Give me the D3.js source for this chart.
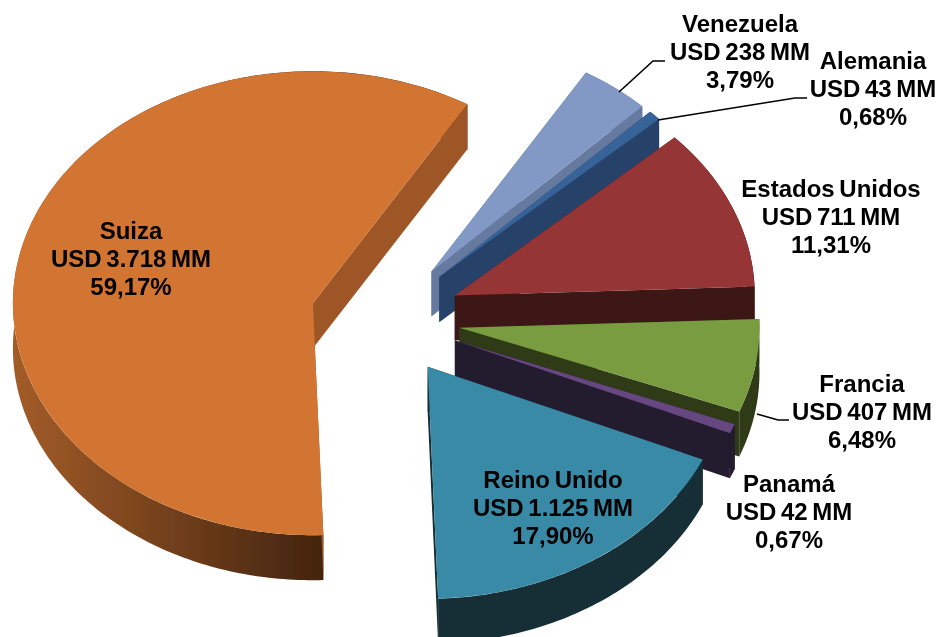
<!DOCTYPE html>
<html>
<head>
<meta charset="utf-8">
<script src="https://cdn.jsdelivr.net/npm/d3@7"></script>
<style>
  html, body { margin: 0; padding: 0; background: #fff; }
  text { font-family: "Liberation Sans", Arial, sans-serif; font-weight: bold; font-size: 24px; word-spacing: -2px; fill: #000; text-anchor: middle; }
  .leader { fill: none; stroke: #000; stroke-width: 1.6; }
</style>
</head>
<body>
<div id="graph"></div>
<script>
var paises = ["Venezuela", "Alemania", "Estados Unidos", "Francia", "Panamá", "Reino Unido", "Suiza"];
var valores = [238, 43, 711, 407, 42, 1125, 3718];
var montos = ["USD 238 MM", "USD 43 MM", "USD 711 MM", "USD 407 MM", "USD 42 MM", "USD 1.125 MM", "USD 3.718 MM"];
var porcentajes = ["3,79%", "0,68%", "11,31%", "6,48%", "0,67%", "17,90%", "59,17%"];

var topColors = ["#8299c6", "#376399", "#963436", "#7a9c3f", "#66467f", "#378aa6", "#d37431"];
var faceColors = ["#66799e", "#274269", "#3e1516", "#2d3a17", "#231a2e", "#162d35", "#9f5725"];
var wallColors = ["#66799e", "#274269", "#3e1516", "#2d3a17", "#231a2e", "#162d35", "url(#suizaWall)"];

// label anchors, same order as paises
var labelX = [740, 873, 831, 862, 789, 553, 131];
var labelY = [32, 69, 197, 392, 492, 488, 239];
var leaders = [
  [[619, 92], [653, 61], [665, 61]],
  [[658, 120], [795, 98], [807, 98]],
  [[757, 414], [778, 420], [789, 420]]
];

var width = 938, height = 637;
var cx = 385.5, cy = 318;     // pie centre before the slices are pulled out
var rx = 300, ry = 232;
var explodeX = 75, explodeY = 59;
var depth = 45;
var lineStep = 28;

var svg = d3.select("#graph").append("svg")
  .attr("width", width)
  .attr("height", height)
  .style("display", "block");

var defs = svg.append("defs");

var grad = defs.append("linearGradient")
  .attr("id", "suizaWall")
  .attr("gradientUnits", "userSpaceOnUse")
  .attr("x1", 12).attr("x2", 322).attr("y1", 0).attr("y2", 0);
grad.append("stop").attr("offset", "0%").attr("stop-color", "#a35c28");
grad.append("stop").attr("offset", "100%").attr("stop-color", "#43240f");

// the source picture is a soft upscaled image
defs.append("filter")
  .attr("id", "soft")
  .append("feGaussianBlur")
  .attr("stdDeviation", 0.5);

var pie = d3.pie()
  .sort(null)
  .startAngle(31 * Math.PI / 180)
  .endAngle(391 * Math.PI / 180);

var arc = d3.arc().innerRadius(0).outerRadius(rx);
var line = d3.line();

var slices = pie(valores).map(function(d, i) {
  var mid = (d.startAngle + d.endAngle) / 2;
  d.i = i;
  d.x = cx + explodeX * Math.sin(mid);
  d.y = cy - explodeY * Math.cos(mid);
  return d;
});

function rimPoint(d, a, dy) {
  return [d.x + rx * Math.sin(a), d.y - ry * Math.cos(a) + dy];
}

function cutFace(d, a) {
  var p = rimPoint(d, a, 0);
  return line([[d.x, d.y], p, [p[0], p[1] + depth], [d.x, d.y + depth]]) + "Z";
}

function outerWall(d) {
  var n = Math.max(4, Math.ceil((d.endAngle - d.startAngle) * 60));
  var angles = d3.range(n + 1).map(function(k) {
    return d.startAngle + (d.endAngle - d.startAngle) * k / n;
  });
  var upper = angles.map(function(a) { return rimPoint(d, a, 0); });
  var lower = angles.slice().reverse().map(function(a) { return rimPoint(d, a, depth); });
  return line(upper.concat(lower)) + "Z";
}

// back to front: Suiza first, Reino Unido last
var paintOrder = [6, 0, 1, 2, 3, 4, 5];
var chartLayer = svg.append("g").classed("chartLayer", true).attr("filter", "url(#soft)");

paintOrder.forEach(function(i) {
  var d = slices[i];
  var g = chartLayer.append("g").classed("slice", true);

  g.append("path").attr("d", outerWall(d)).attr("fill", wallColors[i]);
  g.append("path").attr("d", cutFace(d, d.startAngle)).attr("fill", faceColors[i]);
  g.append("path").attr("d", cutFace(d, d.endAngle)).attr("fill", faceColors[i]);
  g.append("path")
    .attr("d", arc(d))
    .attr("fill", topColors[i])
    .attr("transform", "translate(" + [d.x, d.y] + ") scale(1," + ry / rx + ")");
});

svg.append("g").selectAll("path")
  .data(leaders)
  .enter()
  .append("path")
  .classed("leader", true)
  .attr("d", function(d) { return line(d); });

var labels = svg.append("g").selectAll("text")
  .data(paises)
  .enter()
  .append("text")
  .attr("transform", function(d, i) { return "translate(" + [labelX[i], labelY[i]] + ")"; });

labels.append("tspan").attr("x", 0).attr("y", 0).text(function(d) { return d; });
labels.append("tspan").attr("x", 0).attr("y", lineStep).text(function(d, i) { return montos[i]; });
labels.append("tspan").attr("x", 0).attr("y", lineStep * 2).text(function(d, i) { return porcentajes[i]; });
</script>
</body>
</html>
